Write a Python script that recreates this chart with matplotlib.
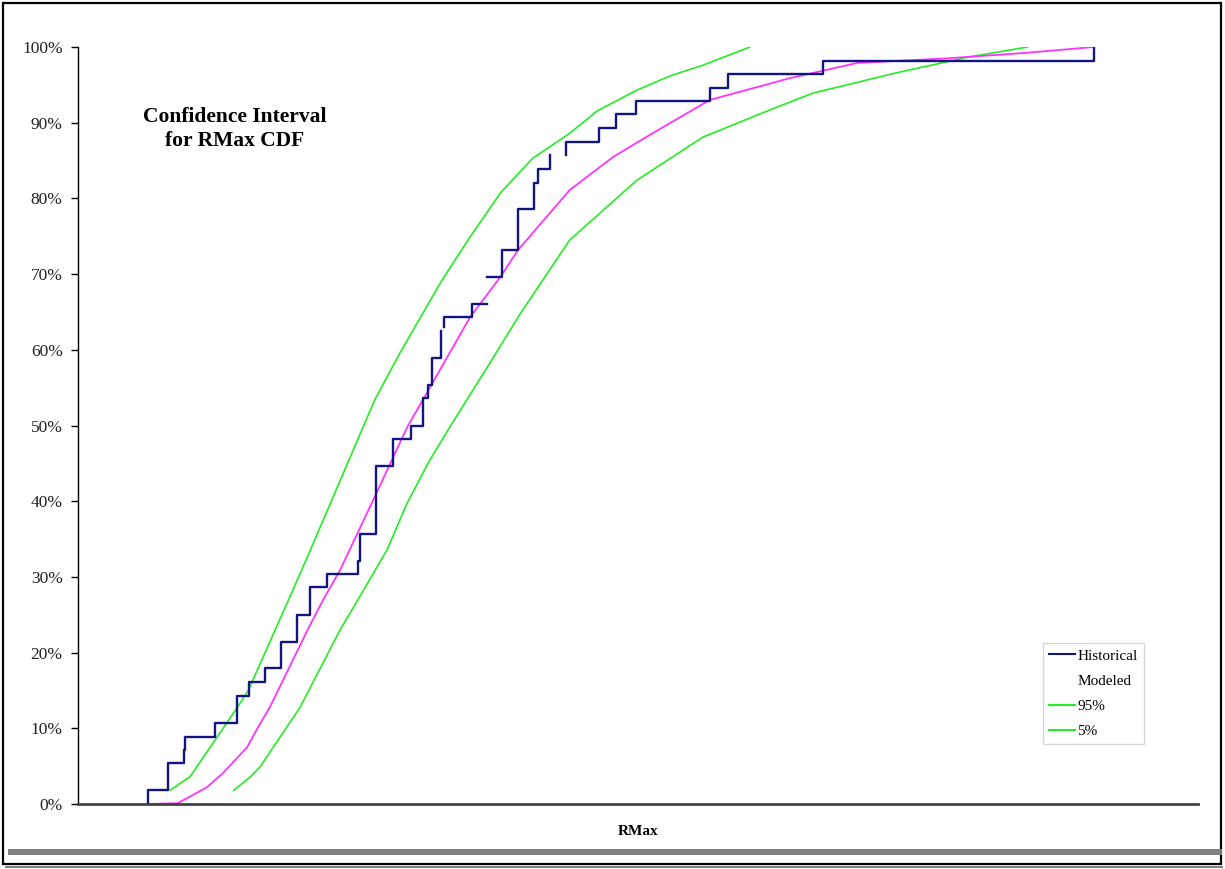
import matplotlib
matplotlib.use("Agg")
import matplotlib.pyplot as plt
from matplotlib.patches import Rectangle
from matplotlib.lines import Line2D
import numpy as np

# RMax axis has no scale in the source chart, so x runs 0..100 across the axis
# historical empirical CDF, drawn in four pieces (the source has small breaks)
hist1_x = [6.25, 6.25, 8.0, 9.5, 9.55, 12.2, 14.2, 15.3, 16.7, 18.1, 19.55,
           20.7, 22.2, 25.0, 25.2, 26.6, 28.1, 29.7, 30.8, 31.25, 31.6, 32.4]
hist1_y = [0, 1.8, 5.4, 7.1, 8.9, 10.7, 14.3, 16.1, 17.9, 21.4, 25.0,
           28.6, 30.4, 32.1, 35.7, 44.6, 48.2, 50.0, 53.6, 55.4, 58.9, 62.5]
hist2_x = [32.7, 32.7, 35.2, 36.5]
hist2_y = [63.0, 64.3, 66.1, 66.1]
hist3_x = [36.5, 37.9, 39.3, 40.7, 41.1, 42.1]
hist3_y = [69.6, 73.2, 78.6, 82.1, 83.9, 85.7]
hist4_x = [43.6, 43.6, 46.5, 48.0, 49.8, 56.4, 58.0, 66.5, 90.7]
hist4_y = [85.7, 87.5, 89.3, 91.1, 92.9, 94.6, 96.4, 98.2, 100.0]

# modeled CDF
mod_x = [6.25, 8.9, 11.5, 12.95, 15.1, 16.1, 17.1, 20.5, 21.9, 23.4, 26.5,
         29.4, 30.8, 35.0, 37.7, 39.3, 43.9, 47.8, 51.3, 56.4, 63.6, 69.6,
         77.6, 84.4, 90.7]
mod_y = [0, 0.1, 2.2, 4.1, 7.5, 10.2, 12.7, 23.0, 27.0, 30.9, 40.6,
         49.8, 53.4, 64.3, 69.6, 73.2, 81.1, 85.5, 88.6, 93.0, 95.9, 97.9,
         98.5, 99.2, 100.0]

# 95% band
up_x = [8.2, 10.0, 14.2, 15.2, 18.9, 20.5, 26.5, 28.75, 32.5, 35.0, 36.5,
        37.7, 40.6, 43.9, 46.4, 49.9, 52.9, 55.8, 60.0]
up_y = [1.8, 3.6, 12.7, 15.0, 27.3, 32.7, 53.4, 59.6, 69.2, 74.9, 78.1,
        80.7, 85.3, 88.6, 91.6, 94.3, 96.2, 97.6, 100.0]

# 5% band
lo_x = [13.9, 15.4, 16.25, 19.8, 23.4, 25.0, 27.6, 29.4, 31.4, 33.2, 36.5,
        39.5, 43.9, 49.9, 55.8, 61.8, 65.6, 73.1, 79.6, 84.8]
lo_y = [1.8, 3.6, 4.9, 12.7, 23.0, 27.0, 33.6, 39.8, 45.4, 49.8, 57.6,
        64.8, 74.5, 82.4, 88.1, 91.7, 93.9, 96.6, 98.7, 100.0]

yticks = list(range(0, 101, 10))

navy = "#141480"
green = "#22ee22"
pink = "#ff33ff"
serif = ["Liberation Serif", "DejaVu Serif"]

fig = plt.figure(figsize=(12.25, 8.69), dpi=100)
ax = fig.add_axes([78/1225, 1-804/869, 1120/1225, 757/869])

ax.plot(lo_x, lo_y, color=green, lw=1.2)
ax.plot(up_x, up_y, color=green, lw=1.2)
ax.plot(mod_x, mod_y, color=pink, lw=1.3)
for hx, hy in [(hist1_x, hist1_y), (hist2_x, hist2_y), (hist3_x, hist3_y), (hist4_x, hist4_y)]:
    ax.plot(hx, hy, color=navy, lw=1.7, drawstyle="steps-post")

ax.set_xlim(0, 100)
ax.set_ylim(0, 100)
ax.set_yticks(yticks)
ax.set_yticklabels(["%d%%" % t for t in yticks], family=serif, fontsize=12.5, color="#222222")
ax.set_xticks([])
ax.tick_params(axis="y", direction="out", length=5, width=1, pad=6)
for s in ["top", "right"]:
    ax.spines[s].set_visible(False)
ax.spines["left"].set_linewidth(1.0)
ax.spines["bottom"].set_linewidth(2.0)
ax.spines["bottom"].set_color("#444444")

ax.set_xlabel("RMax", family=serif, fontsize=11, fontweight="bold", labelpad=15)

fig.text(235/1225, 1-129/869, "Confidence Interval\nfor RMax CDF", family=serif,
         fontsize=15.5, fontweight="bold", ha="center", va="center", linespacing=1.25)

handles = [Line2D([], [], color=navy, lw=1.5),
           Line2D([], [], color="none"),
           Line2D([], [], color=green, lw=1.5),
           Line2D([], [], color=green, lw=1.5)]
leg = fig.legend(handles, ["Historical", "Modeled", "95%", "5%"],
                 loc="upper left", bbox_to_anchor=(1043/1225, 1-643/869),
                 prop={"family": serif, "size": 11}, frameon=True, fancybox=False,
                 handlelength=1.7, handletextpad=0.15, borderpad=0.4, labelspacing=0.75,
                 borderaxespad=0)
leg.get_frame().set_edgecolor("#cccccc")
leg.get_frame().set_linewidth(1.0)

# outer frame of the source page
fig.add_artist(Rectangle((3/1225, 1-864/869), 1218/1225, 861/869, transform=fig.transFigure,
                         fill=False, edgecolor="black", lw=1.6))
fig.add_artist(Rectangle((8/1225, 1-855/869), 1214/1225, 6/869, transform=fig.transFigure,
                         facecolor="#808080", edgecolor="none"))
fig.add_artist(Line2D([6/1225, 1222/1225], [1-867/869, 1-867/869], transform=fig.transFigure,
                      color="#808080", lw=1.5))

fig.savefig("out.png", dpi=100)
